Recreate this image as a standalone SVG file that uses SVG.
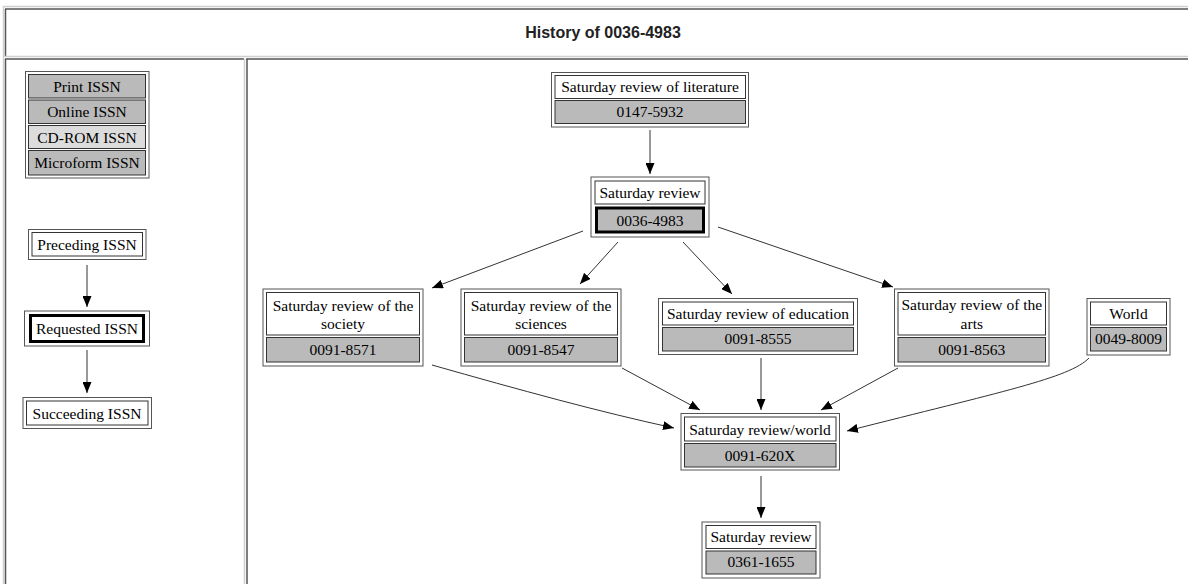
<svg xmlns="http://www.w3.org/2000/svg" width="1188" height="584" viewBox="0 0 1188 584">
<style>
.lt{stroke:#cfcfcf;stroke-width:1.5;fill:none}
.dk{stroke:#555;stroke-width:1.5;fill:none}
.outer{fill:#fff;stroke:#555;stroke-width:1}
.cw{fill:#fff;stroke:#333;stroke-width:1}
.cg{fill:#bababa;stroke:#333;stroke-width:1}
.cl{fill:#dcdcdc;stroke:#333;stroke-width:1}
.thick{fill:none;stroke:#000;stroke-width:3}
.t{font-family:"Liberation Serif","Times New Roman",serif;font-size:15.5px;fill:#000;text-anchor:middle}
.h{font-family:"Liberation Sans",Arial,sans-serif;font-size:16px;font-weight:bold;fill:#222;text-anchor:middle}
.e{stroke:#333;stroke-width:1;fill:none;marker-end:url(#ah)}
</style>
<defs>
<marker id="ah" markerUnits="userSpaceOnUse" markerWidth="11" markerHeight="9" refX="11" refY="4.5" orient="auto">
<path d="M0,0 L11,4.5 L0,9 z" fill="#000"/>
</marker>
</defs>
<rect x="0" y="0" width="1188" height="584" fill="#fff"/>
<g id="frame">
<line class="lt" x1="3" y1="6.5" x2="1188" y2="6.5"/>
<line class="lt" x1="3.5" y1="6" x2="3.5" y2="584"/>
<line class="dk" x1="5" y1="9" x2="1188" y2="9"/>
<line class="dk" x1="5.5" y1="9" x2="5.5" y2="57"/>
<line class="lt" x1="5" y1="56.5" x2="1188" y2="56.5"/>
<line class="dk" x1="5" y1="59" x2="244" y2="59"/>
<line class="dk" x1="5.5" y1="59" x2="5.5" y2="584"/>
<line class="lt" x1="244.5" y1="59" x2="244.5" y2="584"/>
<line class="dk" x1="246" y1="59" x2="1188" y2="59"/>
<line class="dk" x1="247" y1="59" x2="247" y2="584"/>
<text class="h" x="603" y="38">History of 0036-4983</text>
</g>
<g id="legend-types">
<rect class="outer" x="25.5" y="71.5" width="123.5" height="106.5"/>
<rect class="cg" x="28.5" y="74.5" width="117" height="23.5"/>
<rect class="cg" x="28.5" y="100" width="117" height="23.5"/>
<rect class="cl" x="28.5" y="125.5" width="117" height="23"/>
<rect class="cg" x="28.5" y="150.5" width="117" height="24.5"/>
<text class="t" x="87" y="92">Print ISSN</text>
<text class="t" x="87" y="117">Online ISSN</text>
<text class="t" x="87" y="142.5">CD-ROM ISSN</text>
<text class="t" x="87" y="167.5">Microform ISSN</text>
</g>
<g id="legend-preceding">
<rect class="outer" x="28.5" y="229.5" width="117.5" height="30"/>
<rect class="cw" x="32" y="232.5" width="110.5" height="23.5"/>
<text class="t" x="87" y="250">Preceding ISSN</text>
</g>
<g id="legend-requested">
<rect class="outer" x="24.5" y="311" width="125" height="35"/>
<rect class="thick" x="30.5" y="315.5" width="113" height="26"/>
<text class="t" x="87" y="333.5">Requested ISSN</text>
</g>
<g id="legend-succeeding">
<rect class="outer" x="23" y="397.5" width="128.5" height="31"/>
<rect class="cw" x="26.5" y="401" width="121.5" height="24"/>
<text class="t" x="87" y="418.5">Succeeding ISSN</text>
</g>
<g id="n0147-5932">
<rect class="outer" x="551.5" y="72.5" width="197" height="54.5"/>
<rect class="cw" x="555" y="75.5" width="190.5" height="23"/>
<rect class="cg" x="555" y="100.5" width="190.5" height="23"/>
<text class="t" x="650" y="92">Saturday review of literature</text>
<text class="t" x="650" y="116.5">0147-5932</text>
</g>
<g id="n0036-4983">
<rect class="outer" x="591" y="177" width="118" height="60"/>
<rect class="cw" x="595" y="181" width="110" height="23"/>
<rect class="cg" x="596.5" y="208" width="107" height="24"/>
<rect class="thick" x="596.5" y="208" width="107" height="24"/>
<text class="t" x="650" y="198">Saturday review</text>
<text class="t" x="650" y="225.5">0036-4983</text>
</g>
<g id="n0091-8571">
<rect class="outer" x="263" y="289" width="160" height="77"/>
<rect class="cw" x="266.5" y="292.5" width="153" height="42.5"/>
<rect class="cg" x="266.5" y="337.5" width="153" height="24.5"/>
<text class="t" x="343" y="311">Saturday review of the</text>
<text class="t" x="343" y="329">society</text>
<text class="t" x="343" y="355">0091-8571</text>
</g>
<g id="n0091-8547">
<rect class="outer" x="461" y="289" width="160" height="77"/>
<rect class="cw" x="464.5" y="292.5" width="153" height="42.5"/>
<rect class="cg" x="464.5" y="337.5" width="153" height="24.5"/>
<text class="t" x="541" y="311">Saturday review of the</text>
<text class="t" x="541" y="329">sciences</text>
<text class="t" x="541" y="355">0091-8547</text>
</g>
<g id="n0091-8555">
<rect class="outer" x="658.5" y="298.5" width="199" height="56"/>
<rect class="cw" x="662.5" y="302" width="191" height="23"/>
<rect class="cg" x="662.5" y="327.5" width="191" height="23.5"/>
<text class="t" x="758" y="318.5">Saturday review of education</text>
<text class="t" x="758" y="344">0091-8555</text>
</g>
<g id="n0091-8563">
<rect class="outer" x="894.5" y="289" width="154.5" height="77"/>
<rect class="cw" x="898" y="292.5" width="147.5" height="42.5"/>
<rect class="cg" x="898" y="337.5" width="147.5" height="24.5"/>
<text class="t" x="971.8" y="310">Saturday review of the</text>
<text class="t" x="971.8" y="328.5">arts</text>
<text class="t" x="971.8" y="355">0091-8563</text>
</g>
<g id="n0049-8009">
<rect class="outer" x="1087" y="298.5" width="83" height="56.5"/>
<rect class="cw" x="1090.5" y="302" width="76" height="23"/>
<rect class="cg" x="1090.5" y="327.5" width="76" height="23.5"/>
<text class="t" x="1128.5" y="318.5">World</text>
<text class="t" x="1128.5" y="344">0049-8009</text>
</g>
<g id="n0091-620X">
<rect class="outer" x="681" y="413.5" width="158.5" height="56.5"/>
<rect class="cw" x="684.5" y="417" width="151.5" height="24"/>
<rect class="cg" x="684.5" y="443.5" width="151.5" height="23.5"/>
<text class="t" x="760" y="435">Saturday review/world</text>
<text class="t" x="760" y="461">0091-620X</text>
</g>
<g id="n0361-1655">
<rect class="outer" x="702" y="522" width="118" height="56"/>
<rect class="cw" x="706" y="525.5" width="110" height="23"/>
<rect class="cg" x="706" y="551" width="110" height="23"/>
<text class="t" x="761" y="542">Saturday review</text>
<text class="t" x="761" y="567">0361-1655</text>
</g>
<g id="connectors">
<line class="e" x1="87" y1="265" x2="87" y2="307"/>
<line class="e" x1="87" y1="350" x2="87" y2="393"/>
<line class="e" x1="650" y1="130" x2="650" y2="174"/>
<line class="e" x1="583" y1="231" x2="432" y2="288"/>
<line class="e" x1="618" y1="242" x2="580" y2="284"/>
<line class="e" x1="683" y1="242" x2="732" y2="294"/>
<line class="e" x1="718" y1="227" x2="893" y2="287"/>
<path class="e" d="M432,365 C520,390 600,412 674,428"/>
<line class="e" x1="622" y1="368" x2="700" y2="410"/>
<line class="e" x1="761" y1="358" x2="761" y2="410"/>
<line class="e" x1="898" y1="368" x2="821" y2="410"/>
<path class="e" d="M1089,358 C1070,378 1000,392 847,431"/>
<line class="e" x1="761" y1="476" x2="761" y2="518"/>
</g>
</svg>
